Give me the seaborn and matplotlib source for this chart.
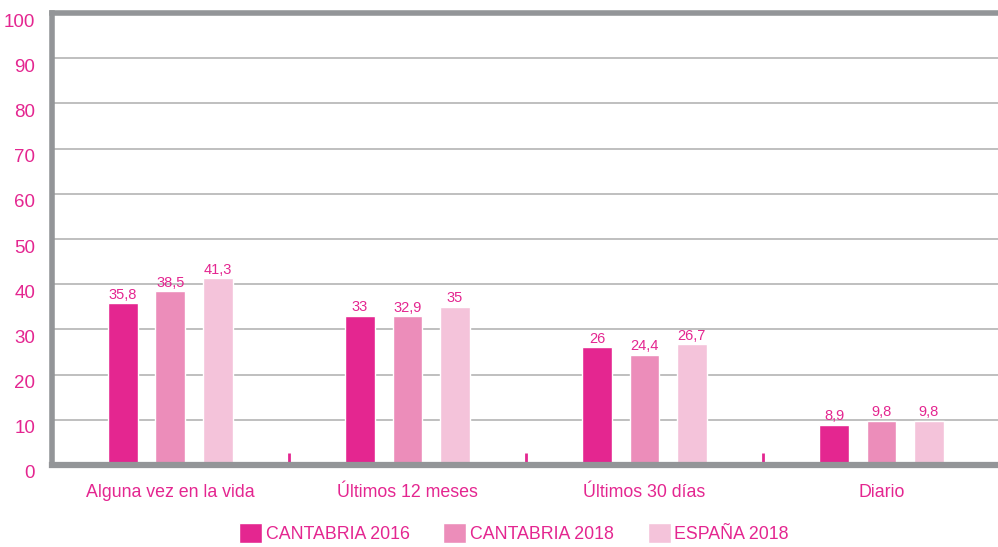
import pandas as pd
import matplotlib.pyplot as plt
import matplotlib.transforms as mtransforms
import seaborn as sns

# --------------------------------------
# Data
# --------------------------------------
categories = ["Alguna vez en la vida", "Últimos 12 meses", "Últimos 30 días", "Diario"]
series = ["CANTABRIA 2016", "CANTABRIA 2018", "ESPAÑA 2018"]
cantabria_2016 = [35.8, 33, 26, 8.9]
cantabria_2018 = [38.5, 32.9, 24.4, 9.8]
espana_2018 = [41.3, 35, 26.7, 9.8]
y_ticks = [0, 10, 20, 30, 40, 50, 60, 70, 80, 90, 100]

colors = ["#E42690", "#EC8DBA", "#F4C3DA"]
pink_text = "#E42690"
frame_gray = "#939598"

rows = []
for name, vals in zip(series, [cantabria_2016, cantabria_2018, espana_2018]):
    for cat, v in zip(categories, vals):
        rows.append({"Categoria": cat, "Serie": name, "Valor": v})
df = pd.DataFrame(rows)

# --------------------------------------
# Plot
# --------------------------------------
sns.set_style("white")
plt.rcParams["font.family"] = ["Liberation Sans", "DejaVu Sans"]

fig = plt.figure(figsize=(9.98, 5.47), dpi=100)
ax = fig.add_axes([0.052, 0.150, 0.950, 0.826])

sns.barplot(data=df, x="Categoria", y="Valor", hue="Serie", order=categories,
            hue_order=series, palette=colors, width=0.6, gap=0.37,
            saturation=1, ax=ax, legend=True)

# value labels
for cont in ax.containers:
    labels = [f"{v:g}".replace(".", ",") for v in cont.datavalues]
    ax.bar_label(cont, labels=labels, padding=1, color=pink_text, fontsize=10.5)

ax.set_xlim(-0.5, 3.5)
ax.set_ylim(0, 100)
ax.set_yticks(y_ticks)
ax.set_xlabel("")
ax.set_ylabel("")

# grid
ax.yaxis.grid(True, color="#b4b4b4", linewidth=1.2)
ax.set_axisbelow(True)

# frame
for side in ["left", "top", "bottom"]:
    ax.spines[side].set_visible(True)
    ax.spines[side].set_color(frame_gray)
    ax.spines[side].set_linewidth(4)
ax.spines["bottom"].set_linewidth(4.5)
ax.spines["right"].set_visible(False)

# ticks
ax.tick_params(axis="y", length=0, pad=12, labelcolor=pink_text, labelsize=13.5)
ax.tick_params(axis="x", which="major", length=0, pad=14, labelcolor=pink_text, labelsize=12.8)
ax.set_xticks([0.5, 1.5, 2.5], minor=True)
ax.tick_params(axis="x", which="minor", direction="in", length=9, width=2,
               color=pink_text, bottom=True)

# nudge y labels a little downward like the original
offset = mtransforms.ScaledTranslation(0, -7 / 100, fig.dpi_scale_trans)
for lbl in ax.get_yticklabels():
    lbl.set_transform(lbl.get_transform() + offset)

# legend
handles, labels = ax.get_legend_handles_labels()
ax.get_legend().remove()
fig.legend(handles, labels, loc="lower center", bbox_to_anchor=(0.515, -0.022),
           ncol=3, frameon=False, fontsize=12.8, labelcolor=pink_text,
           handlelength=1.3, handleheight=1.3, handletextpad=0.2, columnspacing=1.9)

plt.savefig("out.png", dpi=100)
